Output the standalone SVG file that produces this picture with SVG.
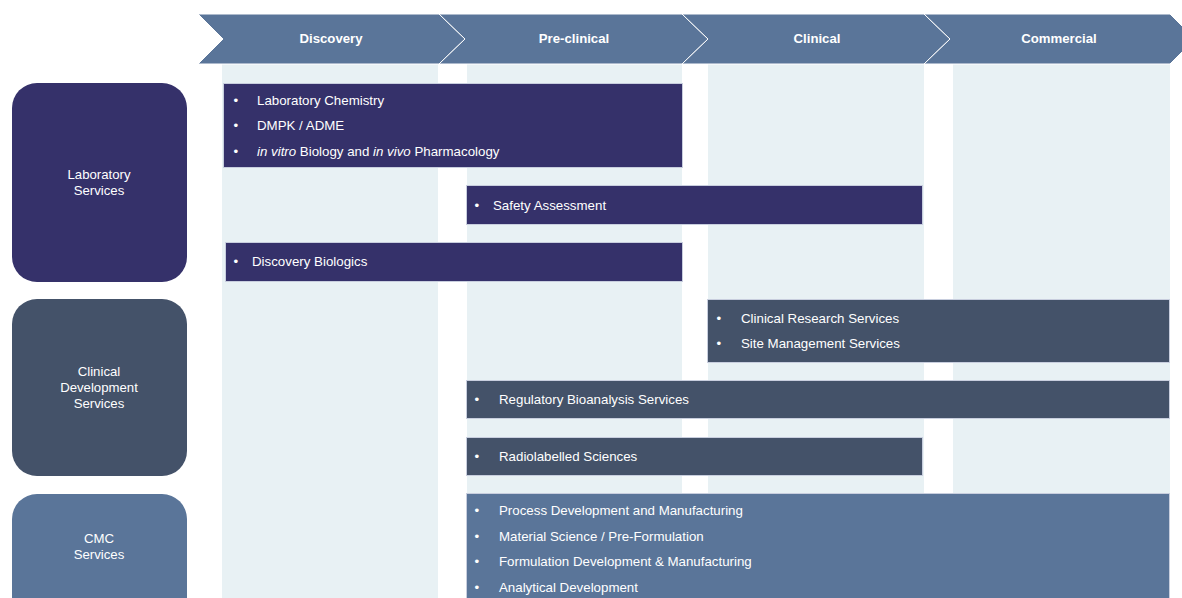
<svg xmlns="http://www.w3.org/2000/svg" width="1182" height="598" viewBox="0 0 1182 598">
  <style>
    .stage { fill: #5a7599; stroke: #ffffff; stroke-width: 1; }
    .stage-label { font-family: "Liberation Sans", Arial, sans-serif; font-size: 13.2px; font-weight: bold; fill: #ffffff; text-anchor: middle; }
    .lane { fill: #e8f1f4; }
    .cat-label { font-family: "Liberation Sans", Arial, sans-serif; font-size: 13.2px; fill: #ffffff; text-anchor: middle; }
    .item { font-family: "Liberation Sans", Arial, sans-serif; font-size: 13.3px; fill: #ffffff; }
    .bar { stroke: #c8cede; stroke-width: 1; }
    .lab { fill: #35316a; }
    .cds { fill: #445269; }
    .cmc { fill: #5a7599; }
    .em { font-style: italic; }
  </style>

  <!-- stage columns -->
  <g id="lanes">
    <rect class="lane" x="222" y="64" width="216" height="534"/>
    <rect class="lane" x="467" y="64" width="215" height="534"/>
    <rect class="lane" x="708" y="64" width="216" height="534"/>
    <rect class="lane" x="953" y="64" width="217" height="534"/>
  </g>

  <!-- stage header chevrons -->
  <g id="stage-discovery">
    <polygon class="stage" points="198,14 439,14 465,39 439,64 198,64 223,39"/>
    <text class="stage-label" x="331" y="43">Discovery</text>
  </g>
  <g id="stage-preclinical">
    <polygon class="stage" points="439,14 682,14 708,39 682,64 439,64 465,39"/>
    <text class="stage-label" x="574" y="43">Pre-clinical</text>
  </g>
  <g id="stage-clinical">
    <polygon class="stage" points="682,14 924,14 950,39 924,64 682,64 708,39"/>
    <text class="stage-label" x="817" y="43">Clinical</text>
  </g>
  <g id="stage-commercial">
    <polygon class="stage" points="924,14 1170,14 1195,39 1170,64 924,64 950,39"/>
    <text class="stage-label" x="1059" y="43">Commercial</text>
  </g>

  <!-- service categories -->
  <g id="cat-laboratory">
    <rect class="lab" x="12" y="83" width="175" height="199" rx="25" ry="25"/>
    <text class="cat-label" x="99" y="178.5">Laboratory</text>
    <text class="cat-label" x="99" y="194.5">Services</text>
  </g>
  <g id="cat-clinical">
    <rect class="cds" x="12" y="299" width="175" height="177" rx="25" ry="25"/>
    <text class="cat-label" x="99" y="375.5">Clinical</text>
    <text class="cat-label" x="99" y="391.5">Development</text>
    <text class="cat-label" x="99" y="407.5">Services</text>
  </g>
  <g id="cat-cmc">
    <rect class="cmc" x="12" y="494" width="175" height="130" rx="25" ry="25"/>
    <text class="cat-label" x="99" y="542.5">CMC</text>
    <text class="cat-label" x="99" y="558.5">Services</text>
  </g>

  <!-- service bars -->
  <g id="bar-lab-chem">
    <rect class="bar lab" x="223.5" y="83.5" width="459" height="84"/>
    <text class="item" x="233.5" y="104.5">•</text>
    <text class="item" x="257" y="104.5">Laboratory Chemistry</text>
    <text class="item" x="233.5" y="129.5">•</text>
    <text class="item" x="257" y="129.5">DMPK / ADME</text>
    <text class="item" x="233.5" y="155.5">•</text>
    <text class="item" x="257" y="155.5"><tspan class="em">in vitro</tspan> Biology and <tspan class="em">in vivo</tspan> Pharmacology</text>
  </g>
  <g id="bar-safety">
    <rect class="bar lab" x="466.5" y="185.5" width="456" height="39"/>
    <text class="item" x="474.5" y="209.5">•</text>
    <text class="item" x="493" y="209.5">Safety Assessment</text>
  </g>
  <g id="bar-biologics">
    <rect class="bar lab" x="225.5" y="242.5" width="457" height="39"/>
    <text class="item" x="233.5" y="265.5">•</text>
    <text class="item" x="252" y="265.5">Discovery Biologics</text>
  </g>
  <g id="bar-clinical-research">
    <rect class="bar cds" x="707.5" y="299.5" width="462" height="63"/>
    <text class="item" x="716.5" y="322.5">•</text>
    <text class="item" x="741" y="322.5">Clinical Research Services</text>
    <text class="item" x="716.5" y="347.5">•</text>
    <text class="item" x="741" y="347.5">Site Management Services</text>
  </g>
  <g id="bar-bioanalysis">
    <rect class="bar cds" x="466.5" y="380.5" width="703" height="38"/>
    <text class="item" x="474.5" y="403.5">•</text>
    <text class="item" x="499" y="403.5">Regulatory Bioanalysis Services</text>
  </g>
  <g id="bar-radiolabelled">
    <rect class="bar cds" x="466.5" y="437.5" width="456" height="38"/>
    <text class="item" x="474.5" y="460.5">•</text>
    <text class="item" x="499" y="460.5">Radiolabelled Sciences</text>
  </g>
  <g id="bar-cmc">
    <rect class="bar cmc" x="466.5" y="493.5" width="703" height="120"/>
    <text class="item" x="474.5" y="514.5">•</text>
    <text class="item" x="499" y="514.5">Process Development and Manufacturing</text>
    <text class="item" x="474.5" y="540.5">•</text>
    <text class="item" x="499" y="540.5">Material Science / Pre-Formulation</text>
    <text class="item" x="474.5" y="565.5">•</text>
    <text class="item" x="499" y="565.5">Formulation Development &amp; Manufacturing</text>
    <text class="item" x="474.5" y="591.5">•</text>
    <text class="item" x="499" y="591.5">Analytical Development</text>
  </g>

  <!-- no connectors in this chart -->
  <g id="connectors"/>
</svg>
